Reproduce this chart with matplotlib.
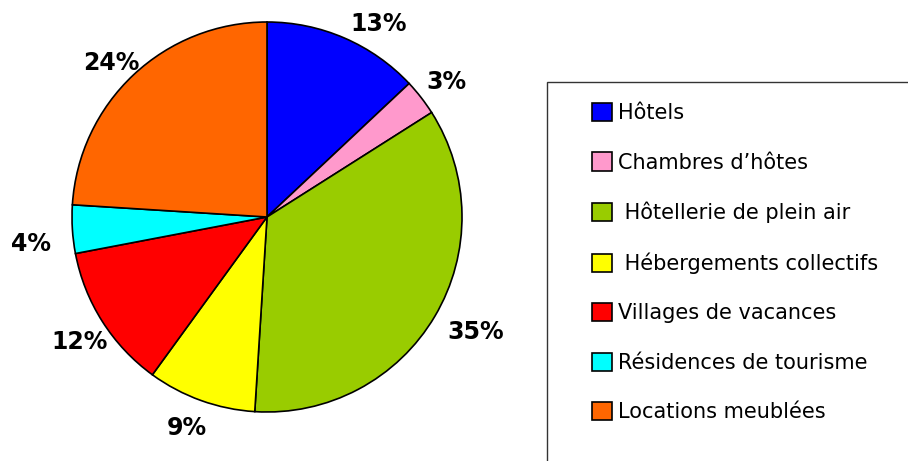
import matplotlib
matplotlib.use("Agg")
import matplotlib.pyplot as plt
from matplotlib.patches import Rectangle

# Répartition des lits touristiques par type d'hébergement
categories = ["Hôtels", "Chambres d\u2019hôtes", " Hôtellerie de plein air",
              " Hébergements collectifs", "Villages de vacances",
              "Résidences de tourisme", "Locations meublées"]
shares = [13, 3, 35, 9, 12, 4, 24]
colors = ["#0000FF", "#FF99CC", "#99CC00", "#FFFF00", "#FF0000", "#00FFFF", "#FF6600"]
pct_labels = [f"{v}%" for v in shares]

# where each percentage sits, in pie radii from the centre
label_pos = [(0.57, 0.99), (0.92, 0.69), (1.07, -0.59), (-0.41, -1.08),
             (-0.96, -0.64), (-1.21, -0.14), (-0.80, 0.79)]

W, H = 908, 461
fig = plt.figure(figsize=(W / 100, H / 100), dpi=100)

# pie centred at (267, 217) px, radius 195 px
cx, cy, r = 267, 217, 195
ax = fig.add_axes([(cx - r) / W, (H - cy - r) / H, 2 * r / W, 2 * r / H])
wedges, texts = ax.pie(shares, colors=colors, labels=pct_labels, startangle=90,
                       counterclock=False,
                       wedgeprops=dict(edgecolor="black", linewidth=1.2),
                       textprops=dict(fontsize=17, fontweight="bold"))
for t, pos in zip(texts, label_pos):
    t.set_position(pos)
    t.set_ha("center")
    t.set_va("center")
ax.set_xlim(-1, 1)
ax.set_ylim(-1, 1)
ax.set_aspect("equal")
ax.axis("off")

# legend frame runs off the right and bottom edges
fig.patches.append(Rectangle((547 / W, -0.1), 0.5, (H - 82) / H + 0.1,
                             transform=fig.transFigure, fill=False,
                             edgecolor="#333333", linewidth=1.0))

leg = fig.legend(wedges, categories, loc="upper left",
                 bbox_to_anchor=(592 / W, 1 - 103 / H), frameon=False,
                 fontsize=15, handlelength=0.97, handleheight=0.97,
                 handletextpad=0.3, labelspacing=1.40, borderpad=0,
                 borderaxespad=0)

fig.savefig("out.png", dpi=100)
